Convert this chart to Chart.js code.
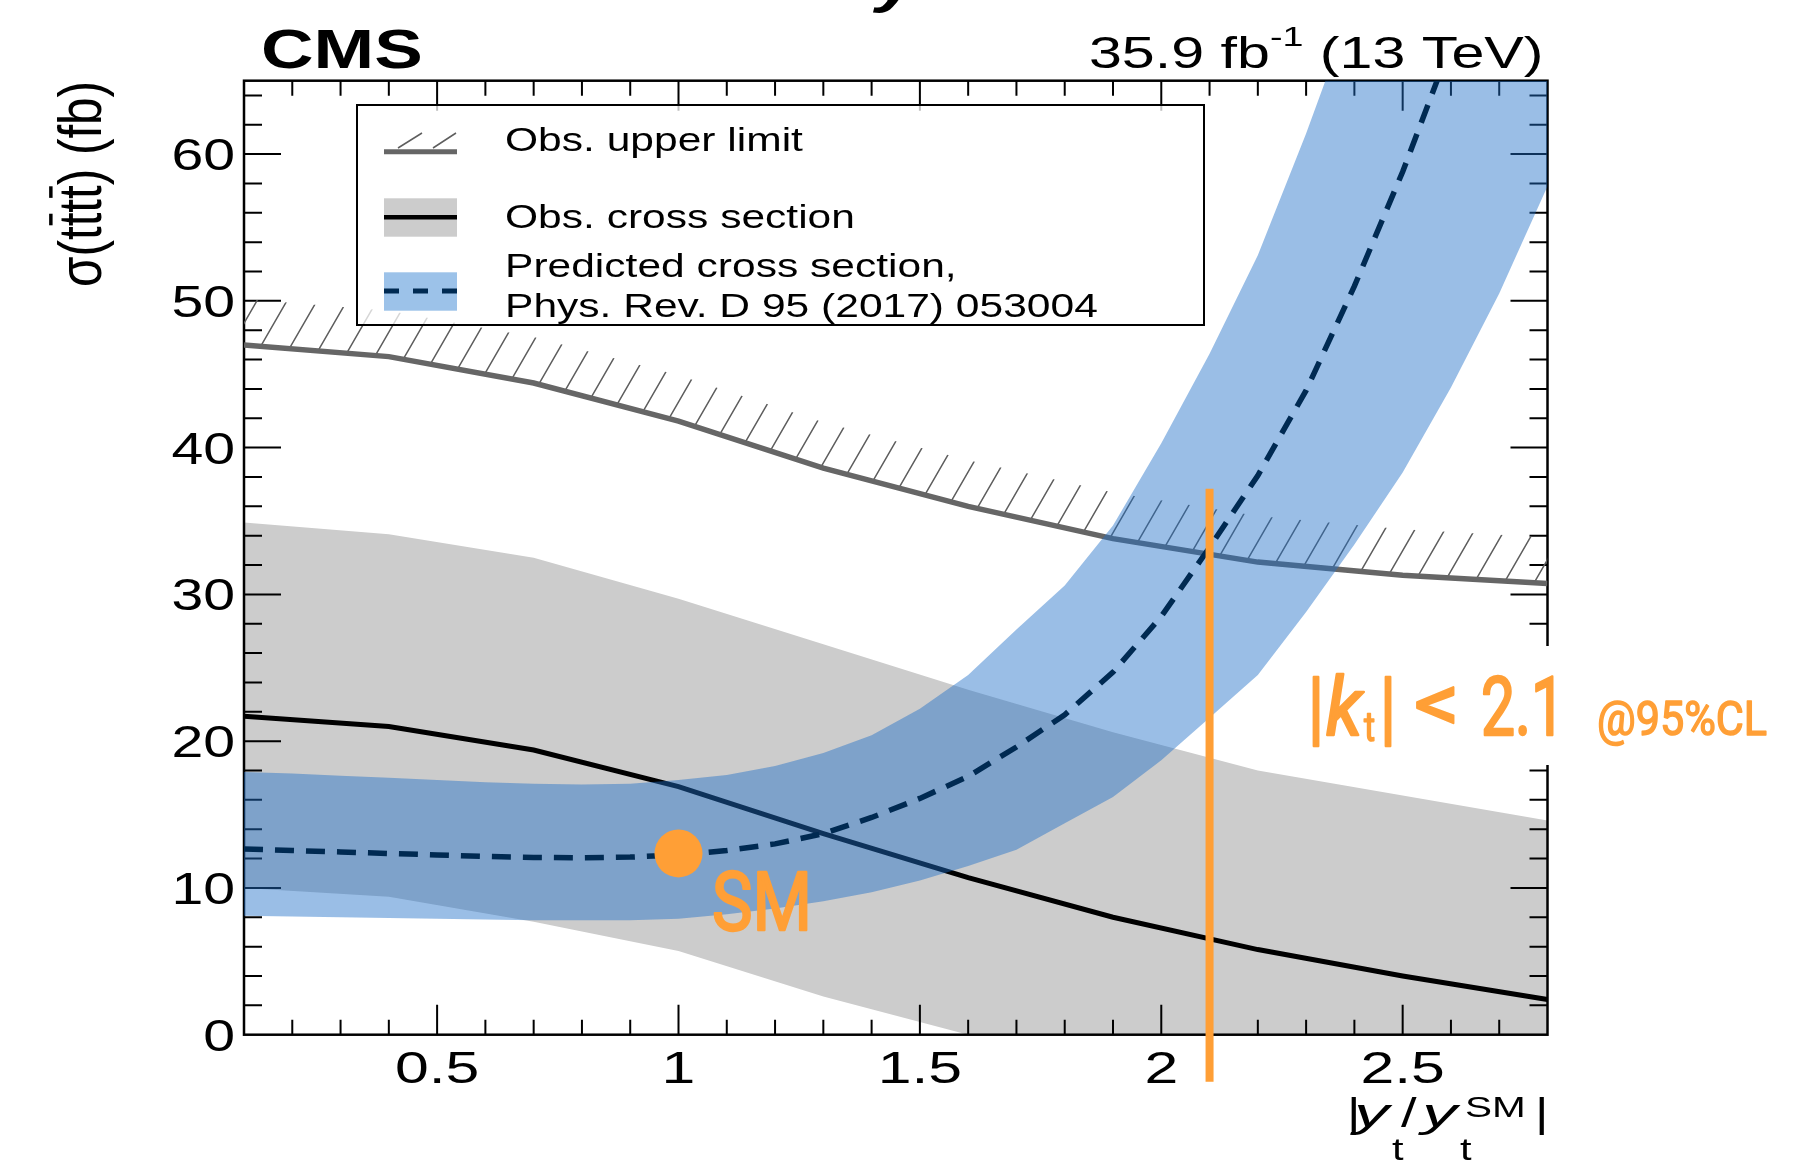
<!DOCTYPE html>
<html>
<head>
<meta charset="utf-8">
<script src="https://cdn.jsdelivr.net/npm/chart.js@4.4.1/dist/chart.umd.min.js"></script>
<style>
	html, body { margin: 0; padding: 0; background: #fff; overflow: hidden; }
	canvas { display: block; }
</style>
</head>
<body>
<canvas id="myChart" width="1793" height="1167" style="width:1793px;height:1167px"></canvas>
<script>
// observed values, one point every 0.3 in |yt/yt_SM|
var obsX = [0.1, 0.4, 0.7, 1.0, 1.3, 1.6, 1.9, 2.2, 2.5, 2.8];
var obsXsec = [21.7, 21.0, 19.4, 16.9, 13.7, 10.7, 8.0, 5.8, 4.0, 2.4];
var obsXsecUp = [34.9, 34.1, 32.5, 29.7, 26.6, 23.5, 20.6, 18.0, 16.3, 14.6];
var obsXsecDown = [10.0, 9.4, 7.7, 5.7, 2.6, 0, 0, 0, 0, 0];
var obsLimit = [47.0, 46.2, 44.4, 41.8, 38.6, 36.0, 33.8, 32.2, 31.3, 30.75];

// prediction (Phys. Rev. D 95 (2017) 053004)
var predX = [0.1, 0.2, 0.3, 0.4, 0.5, 0.6, 0.7, 0.8, 0.9, 1.0, 1.1, 1.2, 1.3, 1.4,
	1.5, 1.6, 1.7, 1.8, 1.9, 2.0, 2.1, 2.2, 2.3, 2.4, 2.5, 2.6, 2.7, 2.8];
var predXsec = [12.65, 12.55, 12.45, 12.35, 12.25, 12.15, 12.08, 12.05, 12.1, 12.25, 12.55, 13.0, 13.7, 14.8,
	16.1, 17.6, 19.6, 21.8, 24.7, 28.5, 33.2, 38.1, 43.9, 51.0, 58.8, 67.5, 77.0, 87.5];
var predXsecUp = [17.9, 17.8, 17.65, 17.5, 17.35, 17.2, 17.1, 17.05, 17.1, 17.35, 17.7, 18.3, 19.2, 20.4,
	22.2, 24.5, 27.6, 30.6, 34.7, 40.3, 46.4, 53.1, 61.4, 70.4, 79.0, 89.0, 99.0, 110.0];
var predXsecDown = [8.1, 8.05, 8.0, 7.95, 7.9, 7.85, 7.8, 7.8, 7.8, 7.9, 8.2, 8.6, 9.1, 9.7,
	10.5, 11.5, 12.6, 14.4, 16.2, 18.7, 21.6, 24.5, 28.8, 33.4, 38.3, 44.1, 50.5, 57.8];

var smPoint = [1.0, 12.35];
var ktLimit = 2.1;
var ktLineY = [37.2, -3.2];

var xTicks = [0.5, 1, 1.5, 2, 2.5];
var xTickLabels = ['0.5', '1', '1.5', '2', '2.5'];
var yTicks = [0, 10, 20, 30, 40, 50, 60];
var yTickLabels = ['0', '10', '20', '30', '40', '50', '60'];

var ORANGE = '#ff9f36';
var NAVY = '#002a52';
var BLUE = 'rgba(30,110,200,0.45)';
var HELV = '"Liberation Sans", Arial, sans-serif';
var DIN = 'Roboto, "Open Sans", sans-serif';

function pairs(xs, ys) {
	return xs.map((x, i) => ({ x: x, y: ys[i] }));
}

// text with horizontal stretch (the reference is wider than tall)
function stretchText(ctx, s, x, y, font, sx, align, color, outline) {
	ctx.save();
	ctx.font = font;
	ctx.fillStyle = color || '#000';
	ctx.textAlign = 'left';
	ctx.textBaseline = 'alphabetic';
	var w = ctx.measureText(s).width * sx;
	var x0 = align === 'right' ? x - w : (align === 'center' ? x - w / 2 : x);
	ctx.translate(x0, y);
	ctx.scale(sx, 1);
	ctx.fillText(s, 0, 0);
	if (outline) {
		ctx.strokeStyle = color;
		ctx.lineWidth = outline;
		ctx.lineJoin = 'round';
		ctx.strokeText(s, 0, 0);
	}
	ctx.restore();
	return w;
}

function fitText(ctx, s, x, y, font, width, color, outline) {
	ctx.save();
	ctx.font = font;
	var sx = width / ctx.measureText(s).width;
	ctx.restore();
	stretchText(ctx, s, x, y, font, sx, 'left', color, outline);
}

function drawFrame(chart) {
	var ctx = chart.ctx, ca = chart.chartArea;
	var xs = chart.scales.x, ys = chart.scales.y;
	ctx.save();
	ctx.strokeStyle = '#000';
	ctx.lineWidth = 2;
	ctx.beginPath();
	for (var k = 2; k <= 27; k++) {
		var px = xs.getPixelForValue(k / 10);
		var len = (k % 5 === 0) ? 30 : 15;
		ctx.moveTo(px, ca.bottom); ctx.lineTo(px, ca.bottom - len);
		ctx.moveTo(px, ca.top); ctx.lineTo(px, ca.top + len);
	}
	for (var v = 2; v <= 64; v += 2) {
		var py = ys.getPixelForValue(v);
		var ylen = (v % 10 === 0) ? 37 : 18;
		ctx.moveTo(ca.left, py); ctx.lineTo(ca.left + ylen, py);
		ctx.moveTo(ca.right, py); ctx.lineTo(ca.right - ylen, py);
	}
	ctx.stroke();
	ctx.lineWidth = 2.5;
	ctx.strokeRect(ca.left, ca.top, ca.right - ca.left, ca.bottom - ca.top);
	// white box behind the |kt| label cuts the right axis
	ctx.fillStyle = '#fff';
	ctx.fillRect(1290, 646, 503, 119);
	ctx.restore();
}

function drawHatch(chart) {
	var ctx = chart.ctx, ca = chart.chartArea;
	var pts = chart.getDatasetMeta(3).data.map(p => ({ x: p.x, y: p.y }));
	var depth = 46;
	ctx.save();
	ctx.beginPath();
	ctx.rect(ca.left, ca.top, ca.right - ca.left, ca.bottom - ca.top);
	ctx.clip();
	ctx.beginPath();
	pts.forEach((p, i) => i ? ctx.lineTo(p.x, p.y) : ctx.moveTo(p.x, p.y));
	for (var i = pts.length - 1; i >= 0; i--) ctx.lineTo(pts[i].x, pts[i].y - depth);
	ctx.closePath();
	ctx.clip();
	ctx.strokeStyle = '#5e5e5e';
	ctx.lineWidth = 1.5;
	ctx.beginPath();
	var dx = (ca.bottom - ca.top) / Math.tan(60 * Math.PI / 180);
	for (var c = ca.left - dx - 40; c < ca.right + 40; c += 30) {
		ctx.moveTo(c, ca.bottom);
		ctx.lineTo(c + dx, ca.top);
	}
	ctx.stroke();
	ctx.restore();
}

function drawLegend(ctx) {
	ctx.save();
	ctx.fillStyle = 'rgba(255,255,255,0.75)';
	ctx.fillRect(357, 105, 847, 220);
	ctx.strokeStyle = '#000';
	ctx.lineWidth = 2;
	ctx.strokeRect(357, 105, 847, 220);

	// obs. upper limit symbol
	ctx.strokeStyle = '#5e5e5e';
	ctx.lineWidth = 1.5;
	ctx.beginPath();
	ctx.moveTo(398, 148); ctx.lineTo(422, 133);
	ctx.moveTo(433, 148); ctx.lineTo(456, 133);
	ctx.stroke();
	ctx.strokeStyle = '#666';
	ctx.lineWidth = 5;
	ctx.beginPath(); ctx.moveTo(384, 151.7); ctx.lineTo(457, 151.7); ctx.stroke();

	// obs. cross section symbol
	ctx.fillStyle = '#cccccc';
	ctx.fillRect(384, 198.3, 73, 38.4);
	ctx.strokeStyle = '#000';
	ctx.lineWidth = 4.5;
	ctx.beginPath(); ctx.moveTo(384, 217.3); ctx.lineTo(457, 217.3); ctx.stroke();

	// predicted symbol
	ctx.fillStyle = '#9cc2e9';
	ctx.fillRect(384, 272.3, 73, 38.4);
	ctx.strokeStyle = NAVY;
	ctx.lineWidth = 5;
	ctx.beginPath();
	ctx.moveTo(384, 291); ctx.lineTo(399, 291);
	ctx.moveTo(413, 291); ctx.lineTo(428, 291);
	ctx.moveTo(442, 291); ctx.lineTo(457, 291);
	ctx.stroke();
	ctx.restore();

	var f = '33.5px ' + HELV;
	stretchText(ctx, 'Obs. upper limit', 505, 150.7, f, 1.27);
	stretchText(ctx, 'Obs. cross section', 505, 228, f, 1.27);
	stretchText(ctx, 'Predicted cross section,', 505, 276.7, f, 1.27);
	stretchText(ctx, 'Phys. Rev. D 95 (2017) 053004', 505, 317.3, f, 1.27);
}

function drawTexts(chart) {
	var ctx = chart.ctx;
	var xs = chart.scales.x, ys = chart.scales.y;

	// tick labels
	var tf = '44px ' + HELV;
	yTicks.forEach((v, i) => stretchText(ctx, yTickLabels[i], 235, ys.getPixelForValue(v) + 16, tf, 1.3, 'right'));
	xTicks.forEach((v, i) => stretchText(ctx, xTickLabels[i], xs.getPixelForValue(v), 1083, tf, 1.38, 'center'));

	// header
	stretchText(ctx, 'CMS', 261, 68, 'bold 56px ' + HELV, 1.3);
	stretchText(ctx, 'y', 876, 1, 'bold italic 56px ' + HELV, 1.3);
	var lumiA = '35.9 fb', lumiB = ' (13 TeV)', sxL = 1.345;
	ctx.save();
	ctx.font = '44px ' + HELV;
	var wA = ctx.measureText(lumiA).width * sxL;
	var wB = ctx.measureText(lumiB).width * sxL;
	ctx.font = '28px ' + HELV;
	var wS = ctx.measureText('-1').width * sxL;
	ctx.restore();
	var lx = 1543.5 - wA - wS - wB;
	stretchText(ctx, lumiA, lx, 68, '44px ' + HELV, sxL);
	stretchText(ctx, '-1', lx + wA, 46, '28px ' + HELV, sxL);
	stretchText(ctx, lumiB, lx + wA + wS, 68, '44px ' + HELV, sxL);

	// y axis title
	ctx.save();
	ctx.translate(101, 184);
	ctx.rotate(-Math.PI / 2);
	ctx.font = '46px ' + HELV;
	var ytitle = '\u03c3(tttt) (fb)';
	var yw = ctx.measureText(ytitle).width;
	var along = 206 / yw;
	ctx.scale(along, 1.33);
	ctx.fillStyle = '#000';
	ctx.textAlign = 'left';
	ctx.fillText(ytitle, -yw / 2, 0);
	// bars over the anti-top quarks
	var p1 = ctx.measureText('\u03c3(t').width, p2 = ctx.measureText('\u03c3(tt').width;
	var p3 = ctx.measureText('\u03c3(ttt').width, p4 = ctx.measureText('\u03c3(tttt').width;
	ctx.fillRect(-yw / 2 + p1 + 1, -39, p2 - p1 - 2, 2.6);
	ctx.fillRect(-yw / 2 + p3 + 1, -39, p4 - p3 - 2, 2.6);
	ctx.restore();

	// x axis title |y_t / y_t^SM|
	var xf = '40px ' + HELV, xi = 'italic 40px ' + HELV, xsub = '32px ' + HELV;
	stretchText(ctx, '|', 1347, 1127, xf, 1.3);
	stretchText(ctx, 'y', 1354, 1127, xi, 1.75);
	stretchText(ctx, 't', 1392, 1160, xsub, 1.3);
	stretchText(ctx, '/', 1401, 1127, xf, 1.4);
	stretchText(ctx, 'y', 1422, 1127, xi, 1.75);
	stretchText(ctx, 't', 1460, 1160, xsub, 1.3);
	stretchText(ctx, 'SM', 1465, 1117, '30px ' + HELV, 1.35);
	stretchText(ctx, '|', 1535, 1127, xf, 1.3);

	// orange annotations
	var of = '82px ' + DIN;
	stretchText(ctx, '|', 1308, 735, of, 0.8, 'left', ORANGE, 2.5);
	stretchText(ctx, 'k', 1326, 735, 'italic ' + of, 0.9, 'left', ORANGE, 2.5);
	stretchText(ctx, 't', 1364, 741, '40px ' + DIN, 0.85, 'left', ORANGE, 1.5);
	stretchText(ctx, '|', 1380, 735, of, 0.8, 'left', ORANGE, 2.5);
	fitText(ctx, '<', 1414, 731, of, 46, ORANGE, 2);
	fitText(ctx, '2.1', 1481, 735, of, 84, ORANGE, 2.5);
	fitText(ctx, '@95%CL', 1597, 735, '49px ' + DIN, 170, ORANGE, 1.5);
	fitText(ctx, 'SM', 712, 930, of, 100, ORANGE, 2.5);
}

var cmsDecor = {
	id: 'cmsDecor',
	beforeDatasetDraw(chart, args) {
		if (args.index === 3) drawHatch(chart);
	},
	afterDatasetDraw(chart, args) {
		if (args.index === 2) drawFrame(chart);
	},
	afterDatasetsDraw(chart) {
		drawLegend(chart.ctx);
		drawTexts(chart);
	}
};

var ctx = document.getElementById('myChart');
var myChart = new Chart(ctx, {
	type: 'line',
	data: {
		datasets: [{
			label: 'obs up',
			data: pairs(obsX, obsXsecUp),
			borderColor: 'rgba(0,0,0,0)',
			borderWidth: 0,
			backgroundColor: '#cccccc',
			fill: 1,
			order: 10
		}, {
			label: 'obs down',
			data: pairs(obsX, obsXsecDown),
			borderColor: 'rgba(0,0,0,0)',
			borderWidth: 0,
			fill: false,
			order: 11
		}, {
			label: 'Obs. cross section',
			data: pairs(obsX, obsXsec),
			borderColor: '#000',
			borderWidth: 5,
			fill: false,
			order: 9
		}, {
			label: 'Obs. upper limit',
			data: pairs(obsX, obsLimit),
			borderColor: '#666',
			borderWidth: 5.5,
			fill: false,
			order: 8
		}, {
			label: 'pred up',
			data: pairs(predX, predXsecUp),
			borderColor: 'rgba(0,0,0,0)',
			borderWidth: 0,
			backgroundColor: BLUE,
			fill: 5,
			order: 7
		}, {
			label: 'pred down',
			data: pairs(predX, predXsecDown),
			borderColor: 'rgba(0,0,0,0)',
			borderWidth: 0,
			fill: false,
			order: 7.5
		}, {
			label: 'Predicted cross section',
			data: pairs(predX, predXsec),
			borderColor: NAVY,
			borderWidth: 5.5,
			borderDash: [19, 12],
			fill: false,
			order: 6
		}, {
			label: 'kt limit',
			data: [{ x: ktLimit, y: ktLineY[0] }, { x: ktLimit, y: ktLineY[1] }],
			borderColor: ORANGE,
			borderWidth: 8,
			fill: false,
			clip: { left: 10, top: 10, right: 10, bottom: 60 },
			order: 5
		}, {
			label: 'SM',
			data: [{ x: smPoint[0], y: smPoint[1] }],
			showLine: false,
			pointRadius: 24,
			pointBackgroundColor: ORANGE,
			pointBorderWidth: 0,
			pointBorderColor: ORANGE,
			clip: false,
			order: 4
		}]
	},
	options: {
		responsive: false,
		maintainAspectRatio: false,
		devicePixelRatio: 1,
		animation: false,
		events: [],
		layout: { padding: { left: 244, right: 245.5, top: 80.7, bottom: 132.3 } },
		elements: { point: { radius: 0 }, line: { tension: 0 } },
		scales: {
			x: { type: 'linear', min: 0.1, max: 2.8, display: false },
			y: { type: 'linear', min: 0, max: 65, display: false }
		},
		plugins: {
			legend: { display: false },
			tooltip: { enabled: false }
		}
	},
	plugins: [cmsDecor]
});
</script>
</body>
</html>
